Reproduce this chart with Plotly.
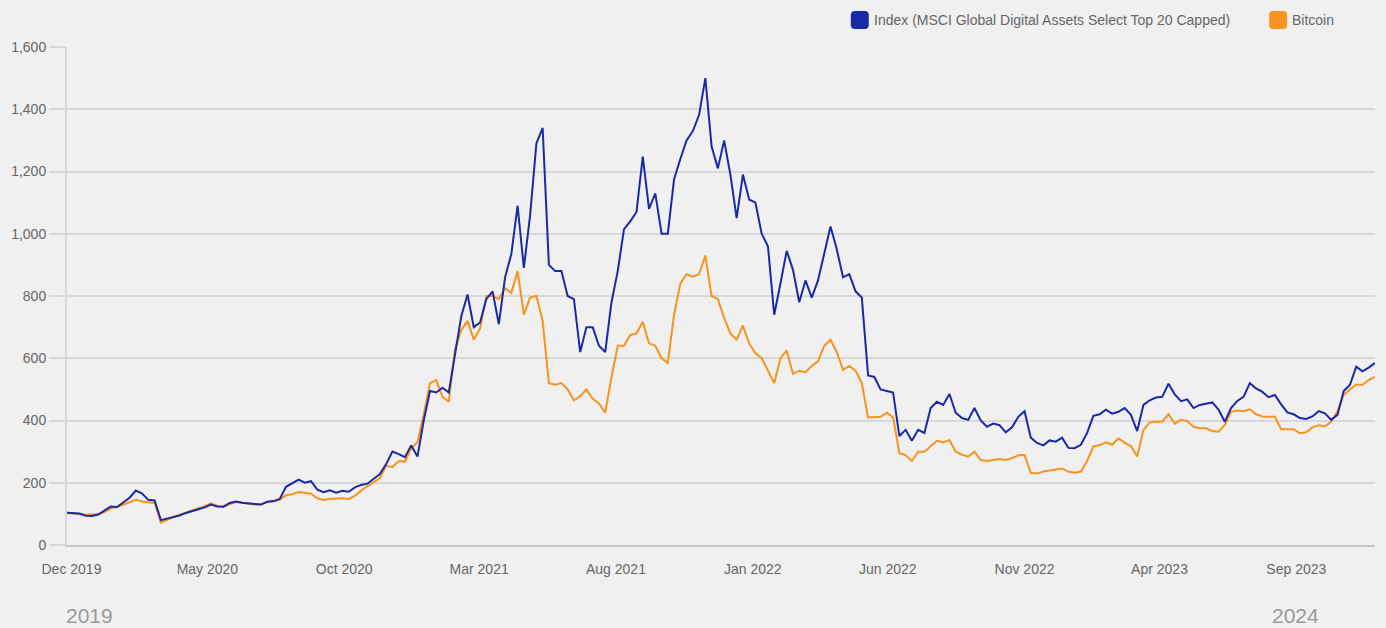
import plotly.graph_objects as go
import pandas as pd

# ---- data (weekly readings from the reference chart) ----
start_date = "2019-11-26"
n_weeks = 210

index_values = [
    104, 102, 101, 94, 93, 98, 110, 124, 122, 138,
    152, 175, 165, 145, 143, 80, 85, 91, 95, 103,
    108, 115, 121, 130, 124, 123, 135, 140, 136, 133,
    132, 130, 139, 141, 148, 187, 199, 210, 200, 205,
    178, 170, 176, 168, 174, 171, 185, 193, 197, 212,
    228, 260, 300, 292, 282, 320, 284, 400, 495, 490,
    505, 490, 610, 735, 805, 700, 715, 790, 815, 710,
    860, 935, 1090, 890, 1060, 1290, 1340, 900, 880, 880,
    800, 790, 620, 700, 700, 640, 620, 780, 880, 1015,
    1040, 1070, 1248, 1080, 1130, 1000, 1000, 1175, 1240, 1300,
    1330, 1382, 1500, 1280, 1210, 1300, 1190, 1050, 1190, 1110,
    1100, 1000, 960, 740, 840, 945, 884, 780, 850, 795,
    850, 940, 1023, 950, 860, 870, 815, 795, 545, 540,
    500, 495, 490, 350, 370, 335, 370, 360, 440, 460,
    450, 485, 425, 408, 402, 440, 400, 380, 390, 385,
    362, 378, 412, 430, 345, 328, 320, 336, 332, 345,
    312, 311, 322, 360, 415, 420, 435, 422, 428, 440,
    418, 366, 450, 465, 474, 476, 518, 484, 462, 468,
    440, 450, 455, 458, 435, 396, 440, 463, 476, 520,
    503, 492, 475, 482, 452, 426, 420, 408, 405, 413,
    430, 423, 402, 418, 495, 515, 573, 558, 570, 585,
]

bitcoin_values = [
    103, 100, 99, 97, 98, 100, 106, 118, 122, 130,
    138, 145, 140, 137, 135, 72, 82, 90, 97, 104,
    110, 118, 125, 134, 126, 124, 132, 138, 136, 132,
    130, 131, 138, 140, 145, 160, 163, 170, 168, 165,
    150, 145, 148, 150, 150, 148, 158, 175, 188, 200,
    215, 255, 250, 270, 268, 310, 330, 420, 520, 530,
    476, 460, 630, 690, 720, 660, 695, 800, 800, 790,
    825, 810, 880, 740, 795, 800, 720, 520, 515, 520,
    500, 465, 478, 500, 470, 455, 425, 540, 640, 640,
    675, 680, 717, 648, 640, 600, 585, 740, 840, 870,
    862, 870, 930, 800, 790, 730, 680, 660, 705, 648,
    616, 600, 560, 520, 600, 625, 550, 560, 555, 575,
    590, 640, 660, 620, 562, 575, 560, 520, 410, 412,
    412, 425, 410, 295, 289, 270, 300, 300, 316, 335,
    330, 337, 300, 290, 284, 300, 273, 270, 273, 276,
    273, 279, 288, 289, 232, 230, 236, 240, 242, 246,
    236, 232, 236, 270, 316, 321, 330, 322, 343, 328,
    318, 284, 370, 394, 396, 396, 420, 390, 402, 398,
    380, 375, 375, 366, 364, 386, 428, 432, 430, 436,
    420, 413, 412, 412, 372, 372, 372, 359, 362, 378,
    385, 381, 396, 430, 482, 500, 515, 515, 530, 540,
]

tick_dates = ["2019-12-01", "2020-05-01", "2020-10-01", "2021-03-01", "2021-08-01",
              "2022-01-01", "2022-06-01", "2022-11-01", "2023-04-01", "2023-09-01"]
tick_labels = ["Dec 2019", "May 2020", "Oct 2020", "Mar 2021", "Aug 2021",
               "Jan 2022", "Jun 2022", "Nov 2022", "Apr 2023", "Sep 2023"]

series_names = ["Index (MSCI Global Digital Assets Select Top 20 Capped)", "Bitcoin"]
series_colors = ["#1a2aa6", "#f7931e"]

dates = pd.date_range(start_date, periods=n_weeks, freq="7D")

# ---- layout geometry ----
W, H = 1386, 628
L, R, T, B = 65, 11, 47, 83
PW, PH = W - L - R, H - T - B
BG = "#f0f0f0"
GRID = "#d8d8d8"
TXT = "#666666"
FONT = "Liberation Sans, Arial, sans-serif"
FS = 14


def px(x):
    return (x - L) / PW


def py(y):
    return (H - B - y) / PH


def rrect(x0, y0, x1, y1, r):
    return (f"M {px(x0 + r)},{py(y0)} L {px(x1 - r)},{py(y0)} "
            f"Q {px(x1)},{py(y0)} {px(x1)},{py(y0 + r)} L {px(x1)},{py(y1 - r)} "
            f"Q {px(x1)},{py(y1)} {px(x1 - r)},{py(y1)} L {px(x0 + r)},{py(y1)} "
            f"Q {px(x0)},{py(y1)} {px(x0)},{py(y1 - r)} L {px(x0)},{py(y0 + r)} "
            f"Q {px(x0)},{py(y0)} {px(x0 + r)},{py(y0)} Z")


fig = go.Figure()
fig.add_trace(go.Scatter(x=dates, y=bitcoin_values, mode="lines", name=series_names[1],
                         line=dict(color=series_colors[1], width=2)))
fig.add_trace(go.Scatter(x=dates, y=index_values, mode="lines", name=series_names[0],
                         line=dict(color=series_colors[0], width=2)))

fig.update_layout(
    width=W, height=H,
    margin=dict(l=L, r=R, t=T, b=B, pad=0),
    paper_bgcolor=BG, plot_bgcolor=BG,
    showlegend=False,
    font=dict(family=FONT, size=FS, color=TXT),
    xaxis=dict(
        type="date",
        range=[dates[0], dates[-1]],
        tickvals=tick_dates, ticktext=tick_labels,
        showgrid=False, zeroline=False,
        showline=True, linecolor="#c6c6c6", linewidth=2,
        ticks="", ticklabelstandoff=10,
        tickfont=dict(family=FONT, size=FS, color=TXT),
    ),
    yaxis=dict(
        range=[0, 1600], dtick=200, tickformat=",",
        showgrid=True, gridcolor=GRID, gridwidth=2,
        zeroline=False,
        showline=True, linecolor=GRID, linewidth=2,
        ticks="outside", ticklen=16, tickwidth=2, tickcolor=GRID,
        tickfont=dict(family=FONT, size=FS, color=TXT),
    ),
)

# legend (drawn manually: rounded squares + labels)
legend_items = [(850, 871, series_names[0], series_colors[0]),
                (1269, 1290, series_names[1], series_colors[1])]
for sx, tx, name, col in legend_items:
    fig.add_shape(type="path", xref="paper", yref="paper",
                  path=rrect(sx, 11, sx + 18, 29, 4),
                  fillcolor=col, line=dict(width=0))
    fig.add_annotation(xref="paper", yref="paper", x=px(tx), y=py(20),
                       xanchor="left", yanchor="middle", showarrow=False,
                       text=name, font=dict(family=FONT, size=FS, color=TXT))

# year labels at the bottom
fig.add_annotation(xref="paper", yref="paper", x=px(62), y=py(615),
                   xanchor="left", yanchor="middle", showarrow=False,
                   text="2019", font=dict(family=FONT, size=21, color="#9a9a9a"))
fig.add_annotation(xref="paper", yref="paper", x=px(1270), y=py(615),
                   xanchor="left", yanchor="middle", showarrow=False,
                   text="2024", font=dict(family=FONT, size=21, color="#9a9a9a"))

fig.write_html("out.html",
               config={"displayModeBar": False},
               post_script="document.body.style.margin='0';document.body.style.background='#f0f0f0';")
